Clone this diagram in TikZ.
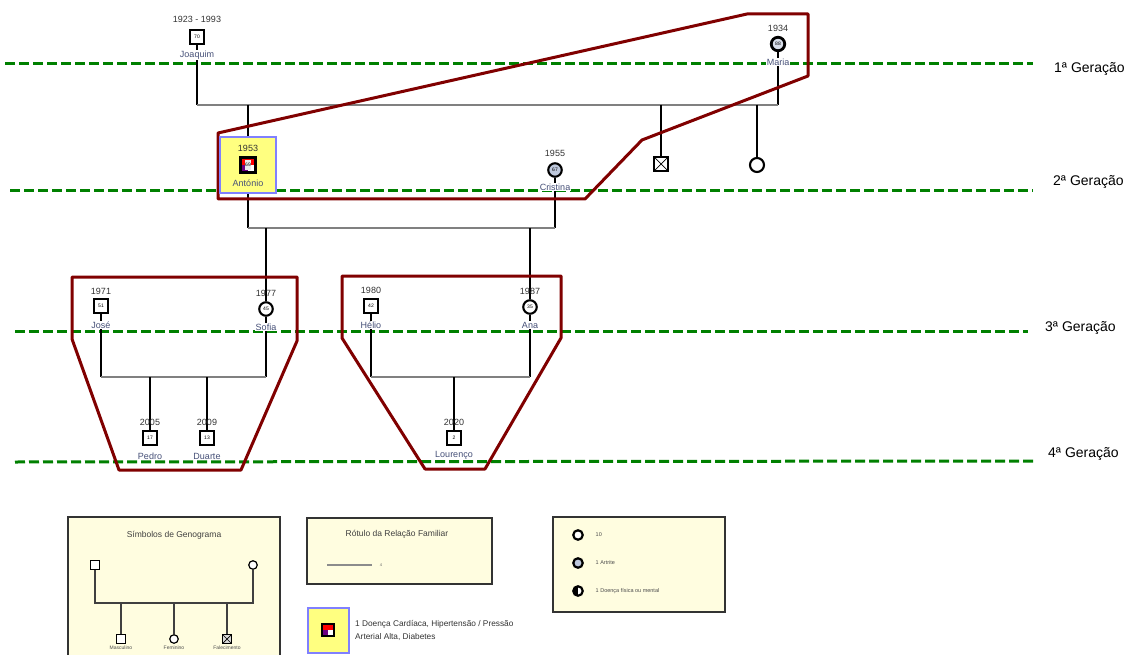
\documentclass[tikz,border=0pt]{standalone}
\usepackage{fontspec}
\setmainfont{Liberation Sans}
\usetikzlibrary{backgrounds}
\definecolor{gline}{RGB}{0,128,0}
\definecolor{dred}{RGB}{128,0,0}
\definecolor{relgray}{RGB}{128,128,128}
\definecolor{legfill}{RGB}{255,253,224}
\definecolor{hlfill}{RGB}{255,255,128}
\definecolor{hlblue}{RGB}{128,128,255}
\definecolor{namec}{RGB}{70,80,120}
\definecolor{yrc}{RGB}{50,50,50}
\definecolor{artr}{RGB}{190,200,220}
\definecolor{dpurple}{RGB}{110,0,130}
\begin{document}
\begin{tikzpicture}[x=1pt,y=-1pt,
  genline/.style={draw=gline, line width=3pt, dash pattern=on 10pt off 4pt},
  genlbl/.style={font=\fontsize{14}{16}\selectfont, anchor=west, inner sep=0pt},
  rel/.style={draw=relgray, line width=1.8pt},
  desc/.style={draw=black, line width=1.8pt},
  sq/.style={rectangle, draw, line width=2.1pt, fill=white, minimum size=14pt, inner sep=0pt, font=\fontsize{5}{6}\selectfont},
  fc/.style={circle, draw, line width=2.1pt, fill=white, minimum size=13.5pt, inner sep=0pt, font=\fontsize{5}{6}\selectfont},
  yr/.style={font=\fontsize{9}{10}\selectfont, text=yrc, inner sep=0.5pt},
  nm/.style={font=\fontsize{9}{10}\selectfont, text=namec, fill=white, inner sep=1pt},
  grp/.style={draw=dred, line width=3pt, line join=round},
  legbox/.style={draw=black!80, line width=1.2pt, fill=legfill},
  legtitle/.style={font=\fontsize{8.5}{10}\selectfont, text=black!75},
  tinylbl/.style={font=\fontsize{5}{6}\selectfont, text=black!70, inner sep=0.5pt},
  lsq/.style={rectangle, draw, line width=1.2pt, fill=white, minimum size=8.5pt, inner sep=0pt},
  lci/.style={circle, draw, line width=1.2pt, fill=white, minimum size=8.5pt, inner sep=0pt},
  legline/.style={draw=black!75, line width=1.2pt},
  xcross/.style={path picture={\draw[line width=0.7pt] (path picture bounding box.north west) -- (path picture bounding box.south east) (path picture bounding box.north east) -- (path picture bounding box.south west);}},
  cardio/.style={path picture={\fill[red] (path picture bounding box.south west) rectangle (path picture bounding box.north east);
     \fill[dpurple] (path picture bounding box.south west) rectangle (path picture bounding box.center);
     \fill[white] (path picture bounding box.center) rectangle (path picture bounding box.south east);}},
  halfblack/.style={path picture={\fill[black] (path picture bounding box.north west) rectangle (path picture bounding box.south);}}
]
\useasboundingbox (0,0) rectangle (1127,655);

% ---------- generation labels ----------
\node[genlbl] (g1) at (1054,69) {1ª Geração};
\node[genlbl] (g2) at (1053,182) {2ª Geração};
\node[genlbl] (g3) at (1045,328) {3ª Geração};
\node[genlbl] (g4) at (1048,454) {4ª Geração};

% ---------- generation 2 highlight box ----------
\node[draw=hlblue, fill=hlfill, line width=2.2pt, minimum width=56pt, minimum height=56pt, inner sep=0pt] (antbox) at (248,165) {};

% ---------- persons ----------
\node[sq] (joaquim) at (197,37) {70};
\node[yr] (joaquimY) at (197,19) {1923 - 1993};
\node[nm] (joaquimN) at (197,55) {Joaquim};

\node[fc, line width=2.8pt, fill=artr!60] (maria) at (778,44) {88};
\node[yr] (mariaY) at (778,28) {1934};
\node[nm] (mariaN) at (778,62) {Maria};

\node[sq, xcross] (dec) at (661,164) {};
\node[fc, minimum size=14pt] (fem) at (757,165) {};

\node[sq, cardio, fill=red, minimum size=15pt] (antonio) at (248,165) {\colorbox{white!85!gray}{\hspace{-2.5pt}69\hspace{-2.5pt}}};
\node[yr] (antonioY) at (248,148) {1953};
\node[font=\fontsize{9}{10}\selectfont, text=namec, inner sep=0.5pt] (antonioN) at (248,183) {António};

\node[fc, fill=artr] (cristina) at (555,170) {67};
\node[yr] (cristinaY) at (555,153) {1955};
\node[nm] (cristinaN) at (555,187) {Cristina};

\node[sq] (jose) at (101,306) {51};
\node[yr] (joseY) at (101,291) {1971};
\node[nm] (joseN) at (101,325) {José};

\node[fc] (sofia) at (266,309) {45};
\node[yr] (sofiaY) at (266,293) {1977};
\node[nm] (sofiaN) at (266,327) {Sofia};

\node[sq] (helio) at (371,306) {42};
\node[yr] (helioY) at (371,290) {1980};
\node[nm] (helioN) at (371,325) {Hélio};

\node[fc] (ana) at (530,307) {35};
\node[yr] (anaY) at (530,291) {1987};
\node[nm] (anaN) at (530,325) {Ana};

\node[sq] (pedro) at (150,438) {17};
\node[yr] (pedroY) at (150,422) {2005};
\node[nm] (pedroN) at (150,456) {Pedro};

\node[sq] (duarte) at (207,438) {13};
\node[yr] (duarteY) at (207,422) {2009};
\node[nm] (duarteN) at (207,456) {Duarte};

\node[sq] (lourenco) at (454,438) {2};
\node[yr] (lourencoY) at (454,422) {2020};
\node[nm] (lourencoN) at (454,455) {Lourenço};

% union coordinates
\coordinate (u1L) at (197,105);
\coordinate (u1R) at (778,105);
\coordinate (u2L) at (248,228);
\coordinate (u2R) at (555,228);
\coordinate (u3L) at (101,377);
\coordinate (u3R) at (266,377);
\coordinate (u4L) at (371,377);
\coordinate (u4R) at (530,377);

% start points of generation lines
\coordinate (g1s) at (5,64);
\coordinate (g2s) at (10,191);
\coordinate (g3s) at (15,331);
\coordinate (g4s) at (15,462);

\begin{scope}[on background layer]
  % generation lines
  \draw[genline] (g1s) -- (1033,64);
  \draw[genline] (g2s) -- (1033,191);
  \draw[genline] (g3s) -- (1028,331);
  \draw[genline] (g4s) -- (1036,461);
  % union Joaquim - Maria
  \draw[desc] (joaquim.south) -- (u1L);
  \draw[desc] (maria.south) -- (u1R);
  \draw[rel] (u1L) -- (u1R);
  \draw[desc] (antbox.north |- u1L) -- (antbox.north);
  \draw[desc] (dec.north |- u1L) -- (dec.north);
  \draw[desc] (fem.north |- u1L) -- (fem.north);
  % union Antonio - Cristina
  \draw[desc] (antbox.south) -- (u2L);
  \draw[desc] (cristina.south) -- (u2R);
  \draw[rel] (u2L) -- (u2R);
  \draw[desc] (sofia.north |- u2L) -- (sofia.north);
  \draw[desc] (ana.north |- u2L) -- (ana.north);
  % union Jose - Sofia
  \draw[desc] (jose.south) -- (u3L);
  \draw[desc] (sofia.south) -- (u3R);
  \draw[rel] (u3L) -- (u3R);
  \draw[desc] (pedro.north |- u3L) -- (pedro.north);
  \draw[desc] (duarte.north |- u3L) -- (duarte.north);
  % union Helio - Ana
  \draw[desc] (helio.south) -- (u4L);
  \draw[desc] (ana.south) -- (u4R);
  \draw[rel] (u4L) -- (u4R);
  \draw[desc] (lourenco.north |- u4L) -- (lourenco.north);
  % group outlines
  \draw[grp] (747,14) -- (808,14) -- (808,76) -- (642,140) -- (585,199) -- (218,199) -- (218,133) -- cycle;
  \draw[grp] (72,277) -- (297,277) -- (297,341) -- (241,470) -- (119,470) -- (72,339) -- cycle;
  \draw[grp] (342,276) -- (561,276) -- (561,338) -- (485,469) -- (425,469) -- (342,338) -- cycle;
\end{scope}

% ---------- legend 1 ----------
\path[legbox] (68,660) -- (68,517) -- (280,517) -- (280,660);
\node[legtitle] (l1t) at (174,535) {Símbolos de Genograma};
\node[lsq] (l1m) at (95,565) {};
\node[lci] (l1f) at (253,565) {};
\coordinate (l1uL) at (95,603);
\coordinate (l1uR) at (253,603);
\node[lsq] (l1c1) at (121,639) {};
\node[lci] (l1c2) at (174,639) {};
\node[lsq, xcross, fill=white!70!gray] (l1c3) at (227,639) {};
\draw[legline] (l1m.south) -- (l1uL) -- (l1uR) -- (l1f.south);
\draw[legline] (l1c1.north |- l1uL) -- (l1c1.north);
\draw[legline] (l1c2.north |- l1uL) -- (l1c2.north);
\draw[legline] (l1c3.north |- l1uL) -- (l1c3.north);
\node[tinylbl] (l1c1N) at (121,647.5) {Masculino};
\node[tinylbl] (l1c2N) at (174,647.5) {Feminino};
\node[tinylbl] (l1c3N) at (227,647.5) {Falecimento};

% ---------- legend 2 ----------
\node[legbox, minimum width=185pt, minimum height=66pt, inner sep=0pt] (l2) at (399.5,551) {};
\node[legtitle] (l2t) at (397,534) {Rótulo da Relação Familiar};
\coordinate (l2a) at (327,565);
\coordinate (l2b) at (372,565);
\draw[draw=black!45, line width=1.4pt] (l2a) -- (l2b);
\node[font=\fontsize{4}{5}\selectfont, text=black!60, inner sep=0pt] (l2n) at (381,565) {4};

% ---------- legend 3 ----------
\node[draw=hlblue, fill=hlfill, line width=2pt, minimum width=41pt, minimum height=45pt, inner sep=0pt] (l3) at (328,630) {};
\node[sq, cardio, minimum size=12pt, line width=1.8pt] (l3s) at (328,630) {};
\node[anchor=west, align=left, font=\fontsize{8.3}{12.5}\selectfont, text=black!80, inner sep=0pt] (l3t) at (355,630.5) {1 Doença Cardíaca, Hipertensão / Pressão\\Arterial Alta, Diabetes};

% ---------- legend 4 ----------
\node[legbox, minimum width=172pt, minimum height=95pt, inner sep=0pt] (l4) at (639,564.5) {};
\node[lci, line width=2.2pt, minimum size=9.5pt] (l4a) at (578,535) {};
\node[lci, line width=2.2pt, minimum size=9.5pt, fill=artr] (l4b) at (578,563) {};
\node[lci, line width=2.2pt, minimum size=9.5pt, halfblack] (l4c) at (578,591) {};
\node[anchor=west, tinylbl, font=\fontsize{5.5}{6}\selectfont] (l4at) at (595,535) {10};
\node[anchor=west, tinylbl, font=\fontsize{5.5}{6}\selectfont] (l4bt) at (595,563) {1 Artrite};
\node[anchor=west, tinylbl, font=\fontsize{5.5}{6}\selectfont] (l4ct) at (595,591) {1 Doença física ou mental};
\end{tikzpicture}
\end{document}
